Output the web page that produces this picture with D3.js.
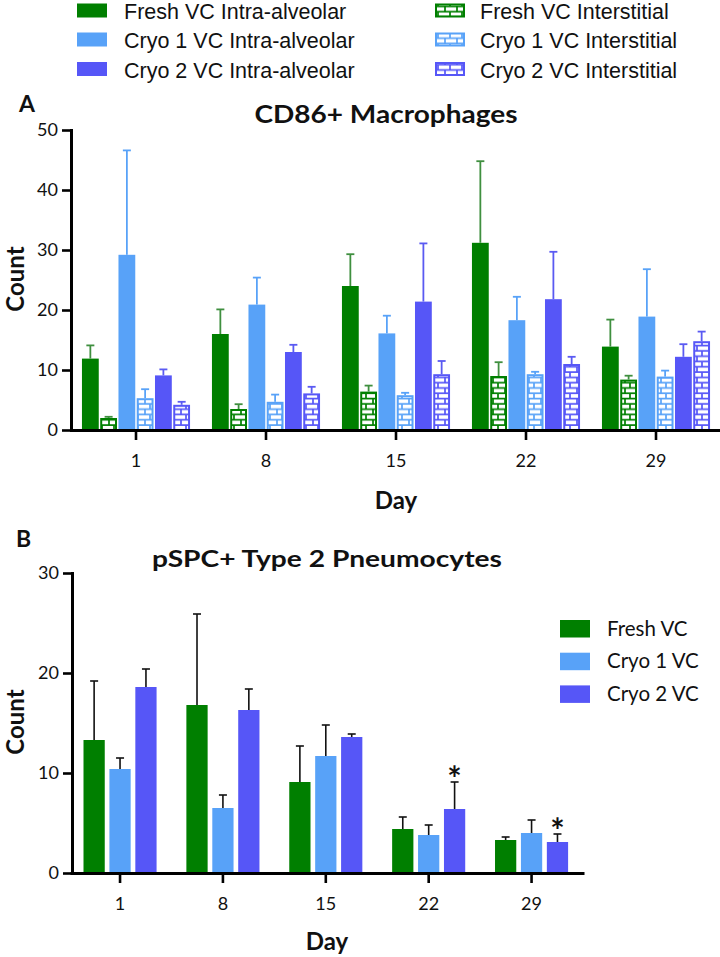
<!DOCTYPE html>
<html><head><meta charset="utf-8">
<script src="https://cdn.jsdelivr.net/npm/d3@7"></script>
<style>body{margin:0;background:#fff}</style>
</head><body>
<svg id="c" width="720" height="957" xmlns="http://www.w3.org/2000/svg"></svg>
<script>
// ---------- data ----------
const days = ["1", "8", "15", "22", "29"];
const seriesA = ["Fresh VC Intra-alveolar", "Fresh VC Interstitial", "Cryo 1 VC Intra-alveolar",
                 "Cryo 1 VC Interstitial", "Cryo 2 VC Intra-alveolar", "Cryo 2 VC Interstitial"];
const freshIntraMean = [11.9, 16.0, 24.0, 31.2, 13.9];
const freshIntraSD   = [2.2, 4.1, 5.3, 13.6, 4.5];
const freshInterMean = [2.0, 3.5, 6.4, 9.0, 8.4];
const freshInterSD   = [0.2, 0.8, 1.0, 2.3, 0.65];
const cryo1IntraMean = [29.2, 20.9, 16.1, 18.3, 18.9];
const cryo1IntraSD   = [17.4, 4.5, 2.95, 3.9, 7.9];
const cryo1InterMean = [5.3, 4.7, 5.8, 9.3, 8.9];
const cryo1InterSD   = [1.5, 1.2, 0.4, 0.4, 1.0];
const cryo2IntraMean = [9.1, 13.0, 21.4, 21.8, 12.2];
const cryo2IntraSD   = [1.0, 1.2, 9.7, 7.9, 2.1];
const cryo2InterMean = [4.2, 6.1, 9.3, 11.0, 14.8];
const cryo2InterSD   = [0.5, 1.1, 2.2, 1.2, 1.6];
const ticksA = [0, 10, 20, 30, 40, 50];

const seriesB = ["Fresh VC", "Cryo 1 VC", "Cryo 2 VC"];
const freshBMean = [13.3, 16.8, 9.1, 4.4, 3.3];
const freshBSD   = [5.9, 9.1, 3.6, 1.2, 0.3];
const cryo1BMean = [10.4, 6.5, 11.7, 3.8, 4.0];
const cryo1BSD   = [1.1, 1.3, 3.1, 1.0, 1.3];
const cryo2BMean = [18.6, 16.3, 13.6, 6.4, 3.1];
const cryo2BSD   = [1.8, 2.1, 0.3, 2.7, 0.8];
const ticksB = [0, 10, 20, 30];
const starsB = [{day: "22", series: "Cryo 2 VC"}, {day: "29", series: "Cryo 2 VC"}];

// ---------- styles ----------
const GREEN = "#007f00", LBLUE = "#58a2f8", PURPLE = "#5656f7";
const errColorA = {green: "#3f8f3f", lblue: "#58a2f8", purple: "#5a5af2"};
const colorKeyA = ["green", "green", "lblue", "lblue", "purple", "purple"];
const baseColor = {green: GREEN, lblue: LBLUE, purple: PURPLE};
const patternedA = [false, true, false, true, false, true];
const FONT = "Lato, 'Open Sans', sans-serif";

const meansA = [freshIntraMean, freshInterMean, cryo1IntraMean, cryo1InterMean, cryo2IntraMean, cryo2InterMean];
const sdsA = [freshIntraSD, freshInterSD, cryo1IntraSD, cryo1InterSD, cryo2IntraSD, cryo2InterSD];
const rowsA = [];
seriesA.forEach((s, si) => days.forEach((d, di) => rowsA.push({series: s, si, day: d, mean: meansA[si][di], sd: sdsA[si][di]})));

const meansB = [freshBMean, cryo1BMean, cryo2BMean];
const sdsB = [freshBSD, cryo1BSD, cryo2BSD];
const colorsB = [GREEN, LBLUE, PURPLE];
const rowsB = [];
seriesB.forEach((s, si) => days.forEach((d, di) => rowsB.push({series: s, si, day: d, mean: meansB[si][di], sd: sdsB[si][di]})));

const svg = d3.select("#c");
const defs = svg.append("defs");
Object.entries(baseColor).forEach(([k, col]) => {
  const p = defs.append("pattern").attr("id", "brick-" + k).attr("patternUnits", "userSpaceOnUse")
    .attr("width", 12).attr("height", 10.6);
  p.append("rect").attr("width", 12).attr("height", 10.6).attr("fill", "#fff");
  p.append("path").attr("d", "M0,1H12M0,6.3H12M6,1V6.3M1,6.3V10.6M1,0V1")
    .attr("stroke", col).attr("stroke-width", 1.7).attr("fill", "none");
});

// ---------- top legend ----------
const legTop = svg.append("g");
const legCols = [{sx: 77, tx: 124}, {sx: 435, tx: 480}];
const legRowY = [10.5, 39.5, 69];
seriesA.forEach((s, i) => {
  const col = i % 2, row = Math.floor(i / 2);
  const c = legCols[col], y = legRowY[row];
  const key = colorKeyA[i];
  if (patternedA[i]) {
    legTop.append("rect").attr("x", c.sx + 1).attr("y", y - 6).attr("width", 28).attr("height", 12)
      .attr("fill", `url(#brick-${key})`).attr("stroke", baseColor[key]).attr("stroke-width", 2);
  } else {
    legTop.append("rect").attr("x", c.sx).attr("y", y - 7).attr("width", 30).attr("height", 14)
      .attr("fill", baseColor[key]);
  }
  legTop.append("text").attr("x", c.tx).attr("y", y + 8.5).text(s)
    .attr("font-family", "'Liberation Sans', Arial, sans-serif").attr("font-size", 21.5).attr("fill", "#111");
});

// ---------- Panel A ----------
const yA = d3.scaleLinear().domain([0, 50]).range([430, 130]);
const xA = d3.scaleBand().domain(days).range([71, 721]);
const xsA = d3.scaleBand().domain(seriesA).range([0, xA.bandwidth()]).paddingInner(0.08).paddingOuter(0.6);
const gA = svg.append("g");

gA.selectAll("rect.bar").data(rowsA).join("rect").attr("class", "bar")
  .each(function(d) {
    const key = colorKeyA[d.si];
    const x = xA(d.day) + xsA(d.series), w = xsA.bandwidth();
    const y = yA(d.mean), h = yA(0) - yA(d.mean);
    const r = d3.select(this);
    if (patternedA[d.si]) {
      r.attr("x", x + 1).attr("y", y + 1).attr("width", w - 2).attr("height", Math.max(0, h - 1))
        .attr("fill", `url(#brick-${key})`).attr("stroke", baseColor[key]).attr("stroke-width", 2);
    } else {
      r.attr("x", x).attr("y", y).attr("width", w).attr("height", h).attr("fill", baseColor[key]);
    }
  });

const errA = gA.selectAll("g.err").data(rowsA).join("g").attr("class", "err")
  .attr("stroke", d => errColorA[colorKeyA[d.si]]).attr("stroke-width", 1.8);
errA.append("line")
  .attr("x1", d => xA(d.day) + xsA(d.series) + xsA.bandwidth() / 2)
  .attr("x2", d => xA(d.day) + xsA(d.series) + xsA.bandwidth() / 2)
  .attr("y1", d => yA(d.mean)).attr("y2", d => yA(d.mean + d.sd));
errA.append("line")
  .attr("x1", d => xA(d.day) + xsA(d.series) + xsA.bandwidth() / 2 - 4)
  .attr("x2", d => xA(d.day) + xsA(d.series) + xsA.bandwidth() / 2 + 4)
  .attr("y1", d => yA(d.mean + d.sd)).attr("y2", d => yA(d.mean + d.sd));

function styleAxis(g) {
  g.select(".domain").attr("stroke", "#000").attr("stroke-width", 3).attr("stroke-linecap", "square");
  g.selectAll(".tick line").attr("stroke", "#000").attr("stroke-width", 2.6);
  g.selectAll(".tick text").attr("font-family", FONT).attr("font-size", 18).attr("fill", "#111");
}
const yAxA = gA.append("g").attr("transform", "translate(71,0)")
  .call(d3.axisLeft(yA).tickValues(ticksA).tickSize(9).tickSizeOuter(0).tickPadding(4));
styleAxis(yAxA);
const xAxA = gA.append("g").attr("transform", "translate(0,430)")
  .call(d3.axisBottom(xA).tickSize(10).tickSizeOuter(0).tickPadding(14));
styleAxis(xAxA);

svg.append("text").attr("x", 19).attr("y", 112).text("A")
  .attr("font-family", FONT).attr("font-weight", 700).attr("font-size", 23).attr("fill", "#111");
svg.append("text").attr("x", 386).attr("y", 123).attr("text-anchor", "middle").text("CD86+ Macrophages")
  .attr("font-family", FONT).attr("font-weight", 700).attr("font-size", 25).attr("fill", "#111")
  .attr("textLength", 263).attr("lengthAdjust", "spacingAndGlyphs");
svg.append("text").attr("transform", "translate(24,279) rotate(-90)").attr("text-anchor", "middle").text("Count")
  .attr("font-family", FONT).attr("font-weight", 700).attr("font-size", 24).attr("fill", "#111");
svg.append("text").attr("x", 396).attr("y", 509).attr("text-anchor", "middle").text("Day")
  .attr("font-family", FONT).attr("font-weight", 700).attr("font-size", 24).attr("fill", "#111");

// ---------- Panel B ----------
const yB = d3.scaleLinear().domain([0, 30]).range([873, 573]);
const xB = d3.scaleBand().domain(days).range([68.6, 583]);
const xsB = d3.scaleBand().domain(seriesB).range([0, xB.bandwidth()]).paddingInner(0.18).paddingOuter(0.575);
const gB = svg.append("g");

gB.selectAll("rect.bar").data(rowsB).join("rect").attr("class", "bar")
  .attr("x", d => xB(d.day) + xsB(d.series)).attr("width", xsB.bandwidth())
  .attr("y", d => yB(d.mean)).attr("height", d => yB(0) - yB(d.mean))
  .attr("fill", d => colorsB[d.si]);

const errB = gB.selectAll("g.err").data(rowsB).join("g").attr("class", "err")
  .attr("stroke", "#111").attr("stroke-width", 1.6);
errB.append("line")
  .attr("x1", d => xB(d.day) + xsB(d.series) + xsB.bandwidth() / 2)
  .attr("x2", d => xB(d.day) + xsB(d.series) + xsB.bandwidth() / 2)
  .attr("y1", d => yB(d.mean)).attr("y2", d => yB(d.mean + d.sd));
errB.append("line")
  .attr("x1", d => xB(d.day) + xsB(d.series) + xsB.bandwidth() / 2 - 4)
  .attr("x2", d => xB(d.day) + xsB(d.series) + xsB.bandwidth() / 2 + 4)
  .attr("y1", d => yB(d.mean + d.sd)).attr("y2", d => yB(d.mean + d.sd));

gB.selectAll("text.star").data(starsB).join("text").attr("class", "star")
  .attr("x", s => xB(s.day) + xsB(s.series) + xsB.bandwidth() / 2)
  .attr("y", s => {
    const si = seriesB.indexOf(s.series), di = days.indexOf(s.day);
    return yB(meansB[si][di] + sdsB[si][di]) + 9;
  })
  .attr("text-anchor", "middle").text("*")
  .attr("font-family", FONT).attr("font-weight", 700).attr("font-size", 34).attr("fill", "#111");

const yAxB = gB.append("g").attr("transform", "translate(72,0)")
  .call(d3.axisLeft(yB).tickValues(ticksB).tickSize(9).tickSizeOuter(0).tickPadding(4));
styleAxis(yAxB);
const xAxB = gB.append("g").attr("transform", "translate(0,873)")
  .call(d3.axisBottom(xB).tickSize(10).tickSizeOuter(0).tickPadding(14));
styleAxis(xAxB);
xAxB.select(".domain").attr("d", "M72,0.5H583");

svg.append("text").attr("x", 16).attr("y", 547).text("B")
  .attr("font-family", FONT).attr("font-weight", 700).attr("font-size", 23).attr("fill", "#111");
svg.append("text").attr("x", 327).attr("y", 567).attr("text-anchor", "middle").text("pSPC+ Type 2 Pneumocytes")
  .attr("font-family", FONT).attr("font-weight", 700).attr("font-size", 22).attr("fill", "#111")
  .attr("textLength", 350).attr("lengthAdjust", "spacingAndGlyphs");
svg.append("text").attr("transform", "translate(24,722) rotate(-90)").attr("text-anchor", "middle").text("Count")
  .attr("font-family", FONT).attr("font-weight", 700).attr("font-size", 24).attr("fill", "#111");
svg.append("text").attr("x", 327).attr("y", 950).attr("text-anchor", "middle").text("Day")
  .attr("font-family", FONT).attr("font-weight", 700).attr("font-size", 24).attr("fill", "#111");

// legend B
const legB = svg.append("g");
seriesB.forEach((s, i) => {
  const y = 620 + i * 32.7;
  legB.append("rect").attr("x", 560).attr("y", y).attr("width", 30).attr("height", 17.5).attr("fill", colorsB[i]);
  legB.append("text").attr("x", 607).attr("y", y + 15.5).text(s)
    .attr("font-family", FONT).attr("font-size", 20.5).attr("fill", "#111");
});
</script>
</body></html>
